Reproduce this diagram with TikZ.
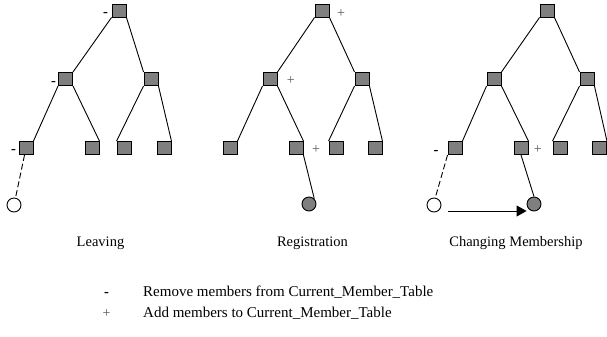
\documentclass[tikz,border=0pt]{standalone}
\usepackage{fontspec}
\setmainfont{Liberation Serif}
\usetikzlibrary{arrows.meta}
\definecolor{boxgray}{HTML}{7F7F7F}
\definecolor{signgray}{HTML}{555555}
\begin{document}
\begin{tikzpicture}[x=1bp,y=-1bp,
  bx/.style={draw=black, fill=boxgray, minimum width=14bp, minimum height=13bp, inner sep=0pt, line width=0.9bp},
  leafopen/.style={circle, draw=black, fill=white, minimum size=14bp, inner sep=0pt, line width=0.9bp},
  leaffull/.style={circle, draw=black, fill=boxgray, minimum size=14bp, inner sep=0pt, line width=0.9bp},
  edge/.style={line width=0.9bp, black},
  dashedge/.style={line width=0.9bp, black, dash pattern=on 6bp off 3bp},
  txt/.style={font=\fontsize{14.5bp}{17bp}\selectfont, inner sep=0pt, anchor=base},
  legtxt/.style={font=\fontsize{15bp}{18bp}\selectfont, inner sep=0pt, anchor=base west},
  minus/.style={font=\fontsize{14.5bp}{17bp}\selectfont\bfseries, inner sep=0pt, anchor=base, text=black},
  plus/.style={font=\fontsize{14bp}{17bp}\selectfont, inner sep=0pt, anchor=base, text=signgray}]
\useasboundingbox (0,0) rectangle (607,336);

% ---------- Tree 1: Leaving ----------
\node[bx] (t1r) at (119,10.5) {};
\node[bx] (t1a) at (65.5,79) {};
\node[bx] (t1b) at (151,79) {};
\node[bx] (t1c) at (26,148) {};
\node[bx] (t1d) at (92,148) {};
\node[bx] (t1e) at (124,148) {};
\node[bx] (t1f) at (164,148) {};
\node[leafopen] (t1o) at (14,205) {};
\draw[edge] (t1r.south west) -- (t1a.north east);
\draw[edge] (t1r.south east) -- (t1b.north west);
\draw[edge] (t1a.south west) -- (t1c.north east);
\draw[edge] (t1a.south east) -- (t1d.north east);
\draw[edge] (t1b.south west) -- (t1e.north west);
\draw[edge] (t1b.south east) -- (t1f.north east);
\draw[dashedge] (t1c) -- (t1o);
\node[minus] (m1) at (105.5,16.5) {-};
\node[minus] (m2) at (53.5,85) {-};
\node[minus] (m3) at (13.5,153.7) {-};
\node[txt] (l1) at (100.5,246) {Leaving};

% ---------- Tree 2: Registration ----------
\node[bx] (t2r) at (322,10.5) {};
\node[bx] (t2a) at (270,79) {};
\node[bx] (t2b) at (362,79) {};
\node[bx] (t2c) at (230,148) {};
\node[bx] (t2d) at (296,148) {};
\node[bx] (t2e) at (336,148) {};
\node[bx] (t2f) at (375,148) {};
\node[leaffull] (t2n) at (309,204) {};
\draw[edge] (t2r.south west) -- (t2a.north east);
\draw[edge] (t2r.south east) -- (t2b.north west);
\draw[edge] (t2a.south west) -- (t2c.north east);
\draw[edge] (t2a.south east) -- (t2d.north east);
\draw[edge] (t2b.south west) -- (t2e.north west);
\draw[edge] (t2b.south east) -- (t2f.north east);
\draw[edge] (t2d.south east) -- (t2n.north east);
\node[plus] (p1) at (341,17) {+};
\node[plus] (p2) at (290.7,84.7) {+};
\node[plus] (p3) at (316,153.7) {+};
\node[txt] (l2) at (312.5,246) {Registration};

% ---------- Tree 3: Changing Membership ----------
\node[bx] (t3r) at (547,10.5) {};
\node[bx] (t3a) at (494,79) {};
\node[bx] (t3b) at (587,79) {};
\node[bx] (t3c) at (455,148) {};
\node[bx] (t3d) at (521,148) {};
\node[bx] (t3e) at (560,148) {};
\node[bx] (t3f) at (599.5,148) {};
\node[leafopen] (t3o) at (434,205) {};
\node[leaffull] (t3n) at (534,204) {};
\draw[edge] (t3r.south west) -- (t3a.north east);
\draw[edge] (t3r.south east) -- (t3b.north west);
\draw[edge] (t3a.south west) -- (t3c.north east);
\draw[edge] (t3a.south east) -- (t3d.north east);
\draw[edge] (t3b.south west) -- (t3e.north west);
\draw[edge] (t3b.south east) -- (t3f.north east);
\draw[dashedge] (t3c.south west) -- (t3o.80);
\draw[edge] (t3d.south) -- (t3n.north);
\coordinate (as) at (448,211);
\draw[edge, -{Triangle[length=10bp, width=11bp]}] (as) -- (t3n.west |- as);
\node[minus] (m4) at (436,154) {-};
\node[plus] (p4) at (537.7,153.7) {+};
\node[txt] (l3) at (516,246) {Changing Membership};

% ---------- Legend ----------
\node[minus] (lm) at (106.5,296.5) {-};
\node[legtxt] (lt1) at (143,296) {Remove members from Current\_Member\_Table};
\node[plus] (lp) at (106.5,317) {+};
\node[legtxt] (lt2) at (143,317) {Add members to Current\_Member\_Table};
\end{tikzpicture}
\end{document}
